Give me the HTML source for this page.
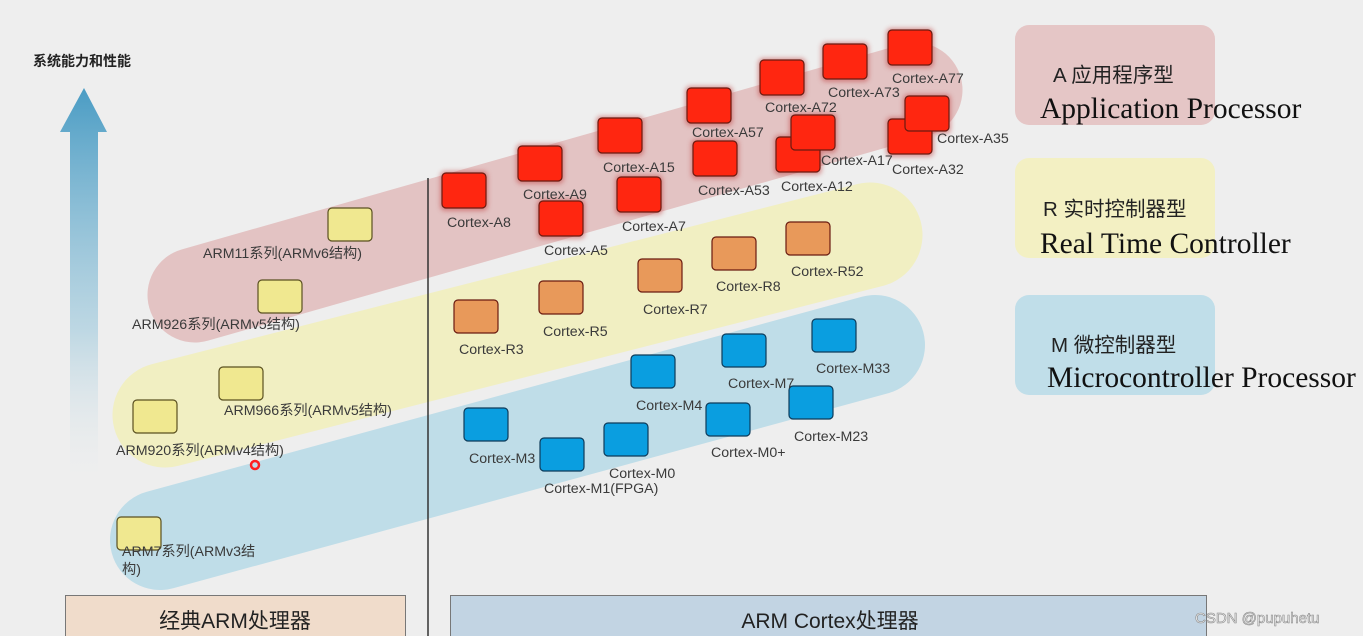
<!DOCTYPE html>
<html><head><meta charset="utf-8"><style>
html,body{margin:0;padding:0;background:#eeeeee;}
svg{display:block;}
text{font-family:"Liberation Sans","Noto Sans CJK SC",sans-serif;}
.l{font-size:14.2px;fill:#3a3a3a;}
</style></head><body>
<svg width="1363" height="636" viewBox="0 0 1363 636" xmlns="http://www.w3.org/2000/svg">
<defs>
<linearGradient id="ar" x1="0" y1="0" x2="0" y2="1">
<stop offset="0" stop-color="#4a9cc4"/><stop offset="0.6" stop-color="#9cc8dc" stop-opacity="0.6"/><stop offset="1" stop-color="#eeeeee" stop-opacity="0"/>
</linearGradient>
<filter id="gl" x="-50%" y="-50%" width="200%" height="200%"><feGaussianBlur stdDeviation="2.5"/></filter>
</defs>
<rect width="1363" height="636" fill="#eeeeee"/>
<line x1="195" y1="295" x2="915" y2="90" stroke="#e3c3c3" stroke-width="95" stroke-linecap="round"/>
<line x1="165" y1="415" x2="870" y2="235" stroke="#f1efc2" stroke-width="105" stroke-linecap="round"/>
<line x1="160" y1="540" x2="875" y2="345" stroke="#bfdde8" stroke-width="100" stroke-linecap="round"/>
<polygon points="84,88 107,132 98,132 98,490 70,490 70,132 60,132" fill="url(#ar)"/>
<text x="33" y="66" style="font-size:14px;font-weight:bold;fill:#222">系统能力和性能</text>
<line x1="428" y1="178" x2="428" y2="636" stroke="#333" stroke-width="1.5"/>
<rect x="65.5" y="595.5" width="340" height="45" fill="#f0dccb" stroke="#777"/>
<text x="235" y="628" text-anchor="middle" style="font-size:21px;fill:#222">经典ARM处理器</text>
<rect x="450.5" y="595.5" width="756" height="45" fill="#c2d4e3" stroke="#777"/>
<text x="830" y="628" text-anchor="middle" style="font-size:21px;fill:#222">ARM Cortex处理器</text>
<text x="1195" y="623" style="font-size:15px;fill:#f4f4f4;stroke:#888;stroke-width:0.6">CSDN @pupuhetu</text>
<rect x="1015" y="25" width="200" height="100" rx="14" fill="#e5c6c6"/>
<text x="1053" y="82" style="font-size:20.5px;fill:#222">A 应用程序型</text>
<text x="1040" y="118" style="font-family:'Liberation Serif',serif;font-size:29.5px;fill:#111">Application Processor</text>
<rect x="1015" y="158" width="200" height="100" rx="14" fill="#f3f0c3"/>
<text x="1043" y="216" style="font-size:20.5px;fill:#222">R 实时控制器型</text>
<text x="1040" y="253" style="font-family:'Liberation Serif',serif;font-size:29.5px;fill:#111">Real Time Controller</text>
<rect x="1015" y="295" width="200" height="100" rx="14" fill="#c0dee9"/>
<text x="1051" y="352" style="font-size:20.5px;fill:#222">M 微控制器型</text>
<text x="1047" y="387" style="font-family:'Liberation Serif',serif;font-size:29.5px;fill:#111">Microcontroller Processor</text>

<g stroke="#6a1a10" stroke-width="1.2">
<g fill="#c04040" opacity="0.5" filter="url(#gl)" stroke="none">
<rect x="440" y="171" width="48" height="40" rx="5"/><rect x="516" y="144" width="48" height="40" rx="5"/><rect x="537" y="199" width="48" height="40" rx="5"/><rect x="596" y="116" width="48" height="40" rx="5"/><rect x="615" y="175" width="48" height="40" rx="5"/><rect x="685" y="86" width="48" height="40" rx="5"/><rect x="691" y="139" width="48" height="40" rx="5"/><rect x="758" y="58" width="48" height="40" rx="5"/><rect x="774" y="135" width="48" height="40" rx="5"/><rect x="789" y="113" width="48" height="40" rx="5"/><rect x="821" y="42" width="48" height="40" rx="5"/><rect x="886" y="28" width="48" height="40" rx="5"/><rect x="886" y="117" width="48" height="40" rx="5"/><rect x="903" y="94" width="48" height="40" rx="5"/>
</g>
<g fill="#ff2610">
<rect x="442" y="173" width="44" height="35" rx="4"/><rect x="518" y="146" width="44" height="35" rx="4"/><rect x="539" y="201" width="44" height="35" rx="4"/><rect x="598" y="118" width="44" height="35" rx="4"/><rect x="617" y="177" width="44" height="35" rx="4"/><rect x="687" y="88" width="44" height="35" rx="4"/><rect x="693" y="141" width="44" height="35" rx="4"/><rect x="760" y="60" width="44" height="35" rx="4"/><rect x="776" y="137" width="44" height="35" rx="4"/><rect x="791" y="115" width="44" height="35" rx="4"/><rect x="823" y="44" width="44" height="35" rx="4"/><rect x="888" y="30" width="44" height="35" rx="4"/><rect x="888" y="119" width="44" height="35" rx="4"/><rect x="905" y="96" width="44" height="35" rx="4"/>
</g>
<g fill="#e8995a">
<rect x="454" y="300" width="44" height="33" rx="4"/><rect x="539" y="281" width="44" height="33" rx="4"/><rect x="638" y="259" width="44" height="33" rx="4"/><rect x="712" y="237" width="44" height="33" rx="4"/><rect x="786" y="222" width="44" height="33" rx="4"/>
</g>
<g fill="#0a9ee0" stroke="#0d3b5a">
<rect x="464" y="408" width="44" height="33" rx="4"/><rect x="540" y="438" width="44" height="33" rx="4"/><rect x="604" y="423" width="44" height="33" rx="4"/><rect x="631" y="355" width="44" height="33" rx="4"/><rect x="706" y="403" width="44" height="33" rx="4"/><rect x="722" y="334" width="44" height="33" rx="4"/><rect x="789" y="386" width="44" height="33" rx="4"/><rect x="812" y="319" width="44" height="33" rx="4"/>
</g>
<g fill="#f0e890" stroke="#5a5020">
<rect x="328" y="208" width="44" height="33" rx="4"/><rect x="258" y="280" width="44" height="33" rx="4"/><rect x="219" y="367" width="44" height="33" rx="4"/><rect x="133" y="400" width="44" height="33" rx="4"/><rect x="117" y="517" width="44" height="33" rx="4"/>
</g>
</g>
<circle cx="255" cy="465" r="4" fill="none" stroke="#ff2020" stroke-width="2.5"/>
<g>
<text class="l" x="447" y="227">Cortex-A8</text>
<text class="l" x="523" y="199">Cortex-A9</text>
<text class="l" x="544" y="255">Cortex-A5</text>
<text class="l" x="603" y="172">Cortex-A15</text>
<text class="l" x="622" y="231">Cortex-A7</text>
<text class="l" x="692" y="137">Cortex-A57</text>
<text class="l" x="698" y="195">Cortex-A53</text>
<text class="l" x="765" y="112">Cortex-A72</text>
<text class="l" x="781" y="191">Cortex-A12</text>
<text class="l" x="821" y="165">Cortex-A17</text>
<text class="l" x="828" y="97">Cortex-A73</text>
<text class="l" x="892" y="83">Cortex-A77</text>
<text class="l" x="892" y="174">Cortex-A32</text>
<text class="l" x="937" y="143">Cortex-A35</text>
<text class="l" x="459" y="354">Cortex-R3</text>
<text class="l" x="543" y="336">Cortex-R5</text>
<text class="l" x="643" y="314">Cortex-R7</text>
<text class="l" x="716" y="291">Cortex-R8</text>
<text class="l" x="791" y="276">Cortex-R52</text>
<text class="l" x="469" y="463">Cortex-M3</text>
<text class="l" x="544" y="493">Cortex-M1(FPGA)</text>
<text class="l" x="609" y="478">Cortex-M0</text>
<text class="l" x="636" y="410">Cortex-M4</text>
<text class="l" x="711" y="457">Cortex-M0+</text>
<text class="l" x="728" y="388">Cortex-M7</text>
<text class="l" x="794" y="441">Cortex-M23</text>
<text class="l" x="816" y="373">Cortex-M33</text>
<text class="l" x="203" y="258">ARM11系列(ARMv6结构)</text>
<text class="l" x="132" y="329">ARM926系列(ARMv5结构)</text>
<text class="l" x="224" y="415">ARM966系列(ARMv5结构)</text>
<text class="l" x="116" y="455">ARM920系列(ARMv4结构)</text>
<text class="l" x="122" y="556">ARM7系列(ARMv3结</text>
<text class="l" x="122" y="574">构)</text>
</g>
</svg>
</body></html>
